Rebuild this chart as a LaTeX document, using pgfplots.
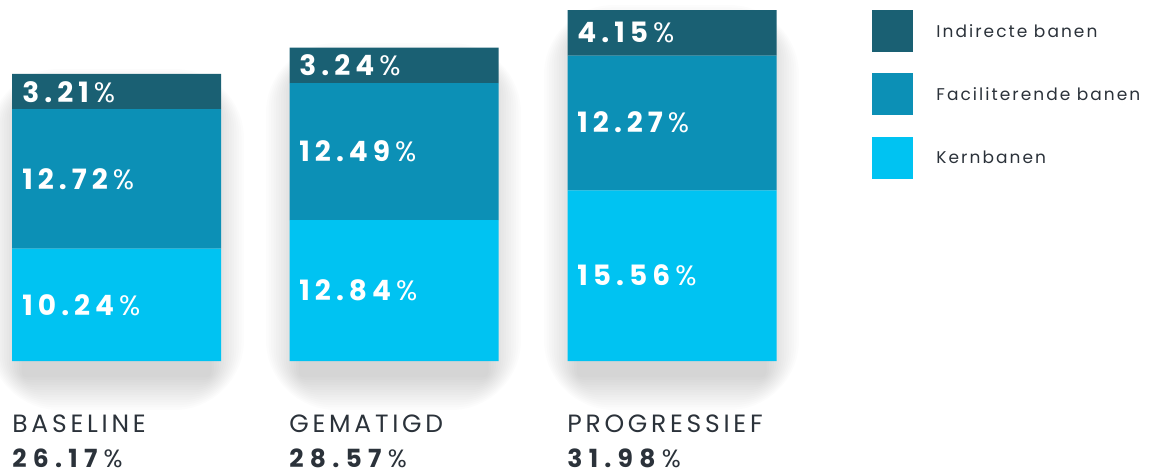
\documentclass[border=0pt]{standalone}
\usepackage{fontspec}
\setmainfont{Poppins}
\newfontfamily\spaced[LetterSpace=15]{Poppins}
\newfontfamily\legspaced[LetterSpace=12]{Poppins}
\newfontfamily\numspaced[LetterSpace=18]{Poppins}
\newfontfamily\totspaced[LetterSpace=25]{Poppins}
\usepackage{pgfplots}
\pgfplotsset{compat=1.18}

\definecolor{indirect}{HTML}{1A6073}
\definecolor{facil}{HTML}{0C90B6}
\definecolor{kern}{HTML}{00C3F2}
\definecolor{ink}{HTML}{2B323A}

\newcommand{\val}[1]{\textbf{#1}\%}
\tikzset{
  val/.style={anchor=west, text=white, font=\numspaced\fontsize{14}{16}\selectfont, text depth=0pt, inner sep=0pt},
  cat/.style={anchor=west, text=ink, font=\spaced\fontsize{12.5}{15}\selectfont, text depth=0pt, inner sep=0pt},
  tot/.style={cat, font=\totspaced\fontsize{12.5}{15}\selectfont},
  leg/.style={anchor=west, text=ink, font=\legspaced\fontsize{8.5}{10}\selectfont, text depth=0pt, inner sep=0pt},
  px/.style={x=0.5pt, y=-0.5pt, shift={(0pt,237pt)}}
}

\begin{document}
\begin{tikzpicture}
\useasboundingbox (0,0) rectangle (577.5pt,237pt);
% soft shadows behind the bars (1 px = 0.5pt, origin top left)
\begin{scope}[px]
  \foreach \xa/\ya in {12/74, 289/48, 567/10}{
    \foreach \i in {1,...,14}{
      \fill[black, opacity=0.011, rounded corners=\i*2.5]
        ({\xa+12-\i*2.5},{\ya+30-\i*2.5}) rectangle ({\xa+197+\i*2.5},{375+\i*2.5});
    }
  }
\end{scope}
\begin{axis}[
    at={(0,0)}, anchor=south west,
    scale only axis,
    width=577.5pt, height=237pt,
    xmin=0, xmax=1155,
    ymin=-10.30, ymax=32.91,
    hide axis,
    clip=false,
    ybar stacked,
    bar width=209,
    bar shift=0pt,
]
\addplot[fill=kern, draw=none]     coordinates {(116.5,10.24) (394,12.84) (672,15.56)};
\addplot[fill=facil, draw=none]    coordinates {(116.5,12.72) (394,12.49) (672,12.27)};
\addplot[fill=indirect, draw=none] coordinates {(116.5,3.21)  (394,3.24)  (672,4.15)};
\end{axis}
\begin{scope}[px]
% value labels
\node[val] at (22,305)   {\val{10.24}};
\node[val] at (22,179)   {\val{12.72}};
\node[val] at (22,92.5)  {\val{3.21}};
\node[val] at (299,290.5) {\val{12.84}};
\node[val] at (299,151.5) {\val{12.49}};
\node[val] at (299,65)    {\val{3.24}};
\node[val] at (577,275.5) {\val{15.56}};
\node[val] at (577,122.5) {\val{12.27}};
\node[val] at (577,32.5)  {\val{4.15}};
% scenario names and totals
\node[cat] at (12,424)  {BASELINE};
\node[tot] at (12,458)  {\textbf{26.17}\%};
\node[cat] at (289,424) {GEMATIGD};
\node[tot] at (289,458) {\textbf{28.57}\%};
\node[cat] at (567,424) {PROGRESSIEF};
\node[tot] at (567,458) {\textbf{31.98}\%};
% legend
\fill[indirect] (872,10) rectangle (913,52);
\fill[facil]    (872,73) rectangle (913,115);
\fill[kern]     (872,137) rectangle (913,179);
\node[leg] at (936,31)  {Indirecte banen};
\node[leg] at (936,94)  {Faciliterende banen};
\node[leg] at (936,157) {Kernbanen};
\end{scope}
\end{tikzpicture}
\end{document}
